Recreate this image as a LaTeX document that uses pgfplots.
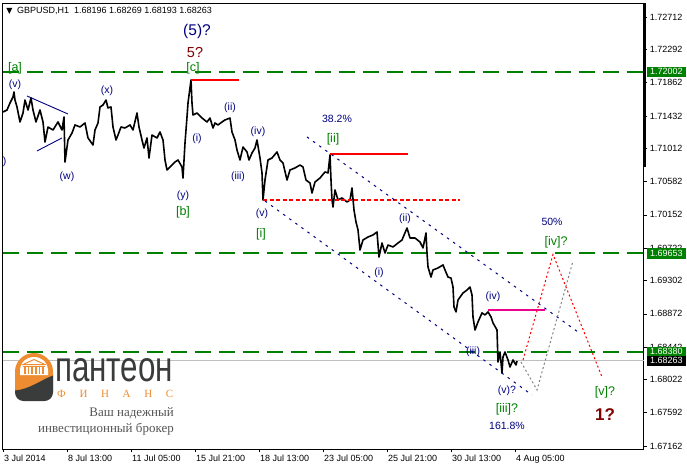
\documentclass[border=0pt]{standalone}
\usepackage{fontspec}
\setmainfont{Liberation Sans}
\newfontfamily\serifru{Liberation Serif}
\newfontfamily\dejavu{DejaVu Sans}
\usepackage{graphicx}
\usepackage{pgfplots}
\pgfplotsset{compat=1.18}
\definecolor{mtgreen}{RGB}{0,128,0}
\definecolor{mtnavy}{RGB}{0,0,128}
\definecolor{mtmaroon}{RGB}{128,0,0}
\definecolor{logoorange}{RGB}{238,140,50}
\definecolor{logogray}{RGB}{58,60,60}
\definecolor{textgray}{RGB}{85,85,85}
\newcommand{\tk}{\fontsize{9}{10}\selectfont}
\newcommand{\lb}{\fontsize{10.5}{12}\selectfont}
\newcommand{\gl}{\fontsize{12.5}{14}\selectfont}
\begin{document}
\begin{tikzpicture}
\path[use as bounding box] (-2.7pt,-18pt) rectangle (684.3pt,449pt);
\begin{axis}[
  at={(0pt,0pt)}, anchor=south west,
  scale only axis, width=641pt, height=446pt,
  xmin=2.7, xmax=643.7, ymin=1.67123, ymax=1.72893,
  clip=false,
  axis line style={line width=0.8pt},
  tick style={black, line width=0.6pt},
  tick align=outside,
  xtick pos=bottom, ytick pos=right,
  yticklabel pos=right,
  major tick length=3pt,
  xtick={3,67,131,195,259,323,387,451,515},
  xticklabels={3 Jul 2014, 8 Jul 13:00, 11 Jul 05:00, 15 Jul 21:00, 18 Jul 13:00, 23 Jul 05:00, 25 Jul 21:00, 30 Jul 13:00, 4 Aug 05:00},
  ytick={1.67162,1.67592,1.68022,1.68442,1.68872,1.69302,1.69722,1.70152,1.70582,1.71012,1.71432,1.71862,1.72292,1.72712},
  yticklabels={1.67162,1.67592,1.68022,1.68442,1.68872,1.69302,1.69722,1.70152,1.70582,1.71012,1.71432,1.71862,1.72292,1.72712},
  xticklabel style={font=\tk, anchor=north west, inner sep=0pt, xshift=1pt, yshift=-3pt},
  yticklabel style={font=\tk, anchor=west, inner sep=0pt, xshift=3pt},
]
% right scale bar
\addplot[black, line width=2pt] coordinates {(644.6,1.72893) (644.6,1.70772)};
% bid line
\addplot[black!25, line width=0.9pt] coordinates {(2.7,1.68263) (643.7,1.68263)};
% green levels
\addplot[color=mtgreen, line width=2pt, dash pattern=on 16pt off 8pt] coordinates {(2.7,1.72002) (643.7,1.72002)};
\addplot[color=mtgreen, line width=2pt, dash pattern=on 16pt off 8pt] coordinates {(2.7,1.69660) (643.7,1.69660)};
\addplot[color=mtgreen, line width=2pt, dash pattern=on 16pt off 8pt] coordinates {(2.7,1.68380) (643.7,1.68380)};
% price
\addplot[black, line width=1.6pt, line join=round] coordinates {
(3,1.71483) (7,1.71509) (10,1.71599) (13,1.71677) (14,1.71742) (15,1.71638) (17,1.71548) (20,1.71354)
(23,1.71470) (25,1.71638) (28,1.71509) (31,1.71664) (33,1.71509) (36,1.71354) (40,1.71509) (43,1.71354)
(45,1.71095) (48,1.71289) (53,1.71250) (58,1.71354) (62,1.71250) (64,1.71418) (65,1.70836) (68,1.71121)
(72,1.71211) (75,1.71315) (80,1.71289) (85,1.71341) (88,1.71147) (93,1.71056) (95,1.71250) (98,1.71341)
(100,1.71548) (103,1.71574) (106,1.71638) (108,1.71535) (111,1.71548) (113,1.71289) (116,1.71121) (118,1.71185)
(121,1.71289) (125,1.71276) (130,1.71315) (133,1.71250) (137,1.71470) (139,1.71289) (142,1.71121) (144,1.71017)
(147,1.71147) (149,1.70888) (152,1.71185) (157,1.71147) (160,1.71224) (163,1.71121) (165,1.70862) (167,1.70733)
(170,1.70771) (175,1.70836) (178,1.70862) (182,1.70771) (183,1.70629) (185,1.71082) (187,1.71418) (188,1.71599)
(191,1.71897) (192,1.71599) (193,1.71444) (197,1.71470) (202,1.71405) (207,1.71354) (210,1.71405) (213,1.71276)
(215,1.71341) (218,1.71315) (222,1.71354) (225,1.71380) (230,1.71405) (232,1.71224) (235,1.71121) (237,1.70991)
(240,1.70862) (243,1.71030) (247,1.70966) (249,1.70862) (252,1.70953) (255,1.71017) (257,1.71121) (260,1.70888)
(262,1.70694) (263,1.70345) (265,1.70603) (268,1.70862) (272,1.70888) (277,1.70966) (280,1.70862) (283,1.70823)
(287,1.70603) (290,1.70733) (295,1.70759) (300,1.70797) (303,1.70771) (306,1.70603) (310,1.70564) (312,1.70435)
(315,1.70577) (320,1.70629) (325,1.70707) (328,1.70694) (330,1.70927) (331,1.70603) (332,1.70345) (333,1.70254)
(335,1.70474) (338,1.70345) (342,1.70371) (347,1.70319) (350,1.70345) (352,1.70500) (354,1.70215) (356,1.70060)
(358,1.69957) (360,1.69698) (363,1.69827) (368,1.69866) (373,1.69892) (377,1.69931) (379,1.69607) (382,1.69788)
(385,1.69659) (388,1.69762) (393,1.69737) (398,1.69788) (402,1.69827) (407,1.69982) (410,1.69853) (415,1.69853)
(420,1.69801) (423,1.69724) (426,1.69918) (427,1.69659) (428,1.69478) (431,1.69348) (433,1.69439) (438,1.69465)
(443,1.69504) (445,1.69439) (448,1.69348) (451,1.69335) (453,1.69219) (454,1.68960) (456,1.68897) (458,1.69051)
(463,1.69141) (467,1.69180) (470,1.69219) (472,1.69115) (473,1.68831) (475,1.68663) (478,1.68767) (482,1.68884)
(485,1.68858) (488,1.68897) (491,1.68831) (493,1.68754) (497,1.68663) (498,1.68249) (500,1.68378) (502,1.68106)
(503,1.68314) (505,1.68378) (508,1.68275) (510,1.68184) (513,1.68275) (516,1.68210) (517,1.68262)
};
% triangle lines
\addplot[mtnavy, line width=0.9pt] coordinates {(27,1.71690) (68,1.71457)};
\addplot[mtnavy, line width=0.9pt] coordinates {(37,1.70979) (62,1.71147)};
% red / magenta levels
\addplot[red, line width=1.3pt] coordinates {(191,1.71897) (239,1.71897)};
\addplot[red, line width=1.1pt, dash pattern=on 4pt off 2.5pt] coordinates {(263,1.70345) (460,1.70345)};
\addplot[red, line width=1.3pt] coordinates {(330,1.70940) (408,1.70940)};
\addplot[magenta, line width=1.3pt] coordinates {(488,1.68922) (545,1.68922)};
% channel
\addplot[mtnavy, line width=1pt, dash pattern=on 2.5pt off 5pt] coordinates {(307,1.71160) (578,1.68637)};
\addplot[mtnavy, line width=1pt, dash pattern=on 2.5pt off 5pt] coordinates {(265,1.70332) (532,1.67822)};
% projections
\addplot[red, line width=1pt, dash pattern=on 2pt off 2.5pt] coordinates {(523,1.68275) (553,1.69640) (602,1.68055)};
\addplot[black!50, line width=1pt, dash pattern=on 2pt off 2.5pt] coordinates {(521,1.68249) (537,1.67887) (573,1.69555)};
% title
\node[font=\dejavu\fontsize{8}{8}\selectfont, inner sep=0pt] at (axis cs:9.5,1.72790) {▼};
\node[anchor=west, font=\tk, inner sep=0pt] at (axis cs:17,1.72794) {GBPUSD,H1\ \ 1.68196 1.68269 1.68193 1.68263};
% labels
\node[text=mtnavy, font=\lb] at (axis cs:15,1.71832) {(v)};
\node[text=mtnavy, font=\lb] at (axis cs:107,1.71755) {(x)};
\node[text=mtnavy, font=\lb] at (axis cs:67,1.70642) {(w)};
\node[text=mtnavy, font=\lb, anchor=east, inner sep=0pt] at (axis cs:6.5,1.70836) {)};
\node[text=mtnavy, font=\lb] at (axis cs:183,1.70396) {(y)};
\node[text=mtgreen, font=\gl] at (axis cs:183,1.70189) {[b]};
\node[text=mtgreen, font=\gl] at (axis cs:15,1.72052) {[a]};
\node[text=mtgreen, font=\gl] at (axis cs:193,1.72052) {[c]};
\node[text=mtmaroon, font=\fontsize{14.5}{16}\selectfont] at (axis cs:195,1.72259) {5?};
\node[text=mtnavy, font=\fontsize{15.5}{17}\selectfont] at (axis cs:197,1.72518) {(5)?};
\node[text=mtnavy, font=\lb] at (axis cs:197,1.71134) {(i)};
\node[text=mtnavy, font=\lb] at (axis cs:230,1.71535) {(ii)};
\node[text=mtnavy, font=\lb] at (axis cs:238,1.70642) {(iii)};
\node[text=mtnavy, font=\lb] at (axis cs:258,1.71224) {(iv)};
\node[text=mtnavy, font=\lb] at (axis cs:262,1.70163) {(v)};
\node[text=mtgreen, font=\gl] at (axis cs:261,1.69905) {[i]};
\node[text=mtnavy, font=\lb] at (axis cs:337,1.71393) {38.2\%};
\node[text=mtgreen, font=\gl] at (axis cs:333,1.71134) {[ii]};
\node[text=mtnavy, font=\lb] at (axis cs:405,1.70099) {(ii)};
\node[text=mtnavy, font=\lb] at (axis cs:379,1.69400) {(i)};
\node[text=mtnavy, font=\lb] at (axis cs:493,1.69090) {(iv)};
\node[text=mtnavy, font=\lb] at (axis cs:473,1.68378) {(iii)};
\node[text=mtnavy, font=\lb] at (axis cs:552,1.70060) {50\%};
\node[text=mtgreen, font=\gl] at (axis cs:556,1.69801) {[iv]?};
\node[text=mtnavy, font=\lb] at (axis cs:507,1.67874) {(v)?};
\node[text=mtgreen, font=\gl] at (axis cs:507,1.67641) {[iii]?};
\node[text=mtnavy, font=\lb] at (axis cs:507,1.67421) {161.8\%};
\node[text=mtgreen, font=\gl] at (axis cs:605,1.67861) {[v]?};
\node[text=mtmaroon, font=\fontsize{17}{19}\selectfont\bfseries] at (axis cs:605,1.67563) {1?};
% anchors for later drawing
\coordinate (b1) at (axis cs:646.3,1.72002);
\coordinate (b2) at (axis cs:646.3,1.69653);
\coordinate (b3) at (axis cs:646.3,1.68380);
\coordinate (b4) at (axis cs:646.3,1.68263);
\coordinate (logo) at (axis cs:34,1.68048);
\coordinate (pan) at (axis cs:55,1.67990);
\coordinate (fin) at (axis cs:57,1.67783);
\coordinate (vash) at (axis cs:174,1.67550);
\coordinate (inv) at (axis cs:174,1.67343);
\end{axis}
% price boxes
\foreach \c/\t/\f in {b1/1.72002/mtgreen, b2/1.69653/mtgreen, b3/1.68380/mtgreen, b4/1.68263/black}{
  \node[fill=\f, text=white, anchor=west, inner xsep=3.5pt, inner ysep=0pt, minimum height=10.5pt, font=\tk] at (\c) {\t};
}
% logo
\begin{scope}[shift={(logo)}]
  \fill[logoorange] (-19pt,-14pt) -- (-19pt,6pt) arc[start angle=180, end angle=0, x radius=19pt, y radius=18.5pt] -- (19pt,-14pt) -- cycle;
  \fill[logogray] (-19pt,-13pt) .. controls (-5pt,-12pt) and (8pt,-2pt) .. (19pt,2pt) -- (19pt,-15pt) arc[start angle=0, end angle=-90, radius=8.5pt] -- (-10.5pt,-23.5pt) arc[start angle=270, end angle=180, radius=8.5pt] -- cycle;
  \fill[white] (-14pt,2.5pt) -- (-14pt,8pt) arc[start angle=180, end angle=0, x radius=14pt, y radius=12.5pt] -- (14pt,2.5pt) -- cycle;
  \draw[logoorange, line width=1pt] (-11pt,13pt) -- (0pt,18pt) -- (11pt,13pt) -- cycle;
  \draw[logoorange, line width=1pt] (-11pt,11.5pt) -- (11pt,11.5pt);
  \foreach \xx in {-9,-5.5,-2,2,5.5,9}{
    \draw[logoorange, line width=1.1pt] (\xx pt,3.5pt) -- (\xx pt,11pt);
  }
\end{scope}
\node[anchor=base west, inner sep=0pt, text=logogray] at (pan) {\resizebox{118pt}{23pt}{\fontsize{30}{30}\selectfont пантеон}};
\node[anchor=base west, inner sep=0pt, text=logoorange, font=\serifru\fontsize{11}{12}\selectfont] at (fin) {\makebox[116pt][s]{Ф\hfill И\hfill Н\hfill А\hfill Н\hfill С}};
\node[anchor=base east, inner sep=0pt, text=textgray, font=\serifru\fontsize{13}{14}\selectfont] at (vash) {Ваш надежный};
\node[anchor=base east, inner sep=0pt, text=textgray, font=\serifru\fontsize{13}{14}\selectfont] at (inv) {инвестиционный брокер};
\end{tikzpicture}
\end{document}
